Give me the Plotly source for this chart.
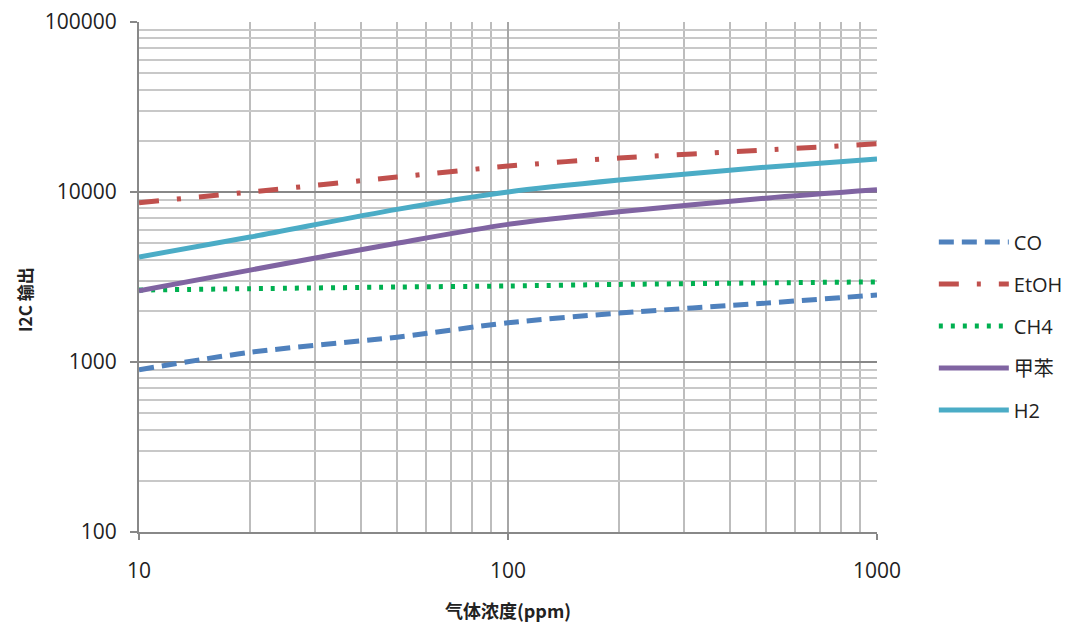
import plotly.graph_objects as go

conc = [10, 20, 50, 100, 200, 500, 1000]
co = [900, 1140, 1400, 1700, 1940, 2220, 2480]
etoh = [8650, 10000, 12250, 14200, 15850, 17650, 19200]
ch4 = [2650, 2700, 2760, 2800, 2860, 2920, 2960]
toluene = [2620, 3470, 5000, 6450, 7650, 9200, 10300]
h2 = [4150, 5430, 7900, 10000, 11750, 14000, 15650]

series = [
    ("CO", co, "#4F81BD", "15px,8px"),
    ("EtOH", etoh, "#C0504D", "20px,18px,4px,18px"),
    ("CH4", ch4, "#00B050", "4px,8px"),
    ("甲苯", toluene, "#8064A2", "solid"),
    ("H2", h2, "#4BACC6", "solid"),
]

x_major = [10, 100, 1000]
x_minor = [v * d for v in [10, 100] for d in range(2, 10)]
y_major = [100, 1000, 10000, 100000]
y_minor = [v * d for v in [100, 1000, 10000] for d in range(2, 10)]

fig = go.Figure()
for i, (name, vals, color, dash) in enumerate(series):
    fig.add_trace(go.Scatter(
        x=conc, y=vals, name=name, mode="lines", legendgroup=f"g{i}",
        line=dict(color=color, width=5, dash=dash, shape="spline", smoothing=0.8),
    ))

font_main = "Open Sans, Noto Sans CJK SC, sans-serif"
# page body has an 8px default margin, so offsets are compensated here
fig.update_layout(
    width=1070, height=626,
    margin=dict(l=131, r=201, t=14, b=102, autoexpand=False),
    paper_bgcolor="white", plot_bgcolor="white",
    font=dict(family=font_main, size=21, color="#222"),
    showlegend=True,
    legend=dict(x=1.077, y=0.404, xanchor="left", yanchor="middle",
                font=dict(size=20, family=font_main, color="#222"),
                tracegroupgap=13, itemwidth=70, bgcolor="rgba(0,0,0,0)"),
    xaxis=dict(
        type="log", range=[1, 3], automargin=False,
        tickvals=x_major, ticktext=[str(v) for v in x_major],
        ticks="outside", ticklen=6, tickcolor="#888", tickwidth=2,
        ticklabelstandoff=13, ticklabeloverflow="allow",
        showgrid=True, gridcolor="#A6A6A6", gridwidth=1.5,
        minor=dict(tickvals=x_minor, showgrid=True, gridcolor="#BDBDBD", gridwidth=1.5, ticks=""),
        showline=True, linecolor="#888", linewidth=2, zeroline=False,
        tickfont=dict(size=21),
        title=dict(text="<b>气体浓度(ppm)</b>", font=dict(size=18, family="Noto Sans CJK SC"), standoff=22),
    ),
    yaxis=dict(
        type="log", range=[2, 5], automargin=False,
        tickvals=y_major, ticktext=[str(v) for v in y_major],
        ticks="outside", ticklen=7, tickcolor="#888", tickwidth=2,
        ticklabelstandoff=9, ticklabeloverflow="allow",
        showgrid=True, gridcolor="#888888", gridwidth=1.5,
        minor=dict(tickvals=y_minor, showgrid=True, gridcolor="#C8C8C8", gridwidth=1.5, ticks=""),
        showline=True, linecolor="#888", linewidth=2, zeroline=False,
        tickfont=dict(size=21),
    ),
    annotations=[dict(
        text="<b>I2C 输出</b>", textangle=-90, showarrow=False,
        xref="paper", yref="paper", x=(24 - 139) / 738, y=(532 - 300) / 510,
        xanchor="center", yanchor="middle",
        font=dict(size=17, family="Noto Sans CJK SC", color="#222"),
    )],
)

fig.write_html("out.html")
